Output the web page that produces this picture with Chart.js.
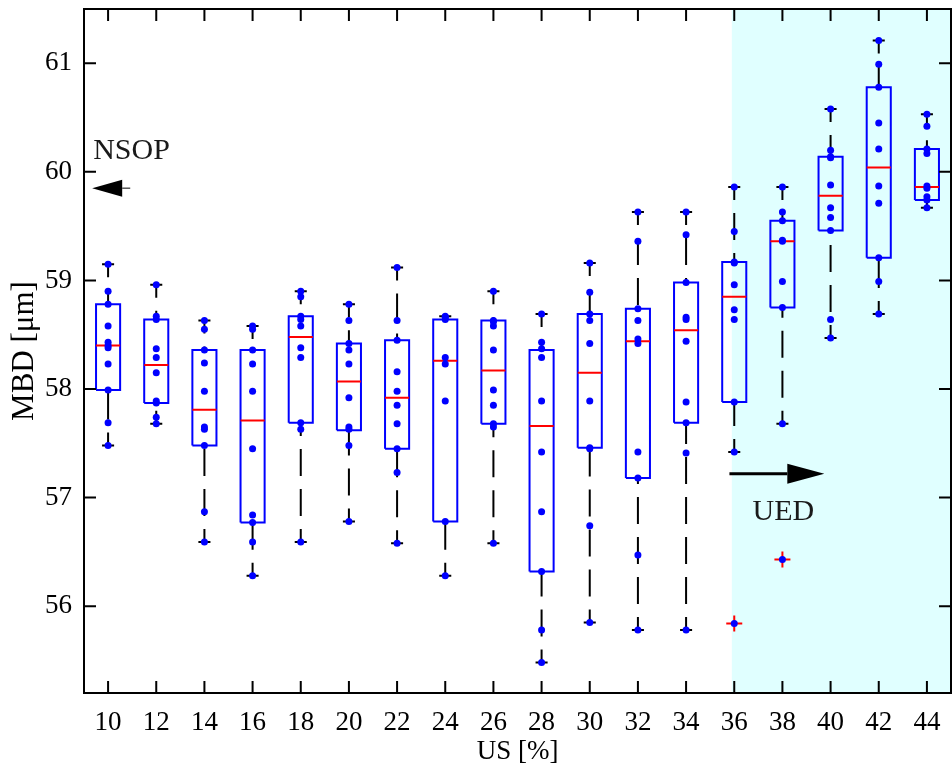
<!DOCTYPE html>
<html>
<head>
<meta charset="utf-8">
<title>MBD vs US</title>
<script src="https://cdn.jsdelivr.net/npm/chart.js@4.4.1/dist/chart.umd.min.js"></script>
<style>
  html, body { margin: 0; padding: 0; background: #fff; }
  #wrap { width: 952px; height: 771px; }
</style>
</head>
<body>
<div id="wrap"><canvas id="mbdChart" width="952" height="771"></canvas></div>
<script>
// US levels (one box per level)
const usLevels = [10, 12, 14, 16, 18, 20, 22, 24, 26, 28, 30, 32, 34, 36, 38, 40, 42, 44];

// box statistics
const q1 = [57.99, 57.87, 57.48, 56.77, 57.69, 57.62, 57.45, 56.78, 57.68, 56.32, 57.46, 57.18, 57.69, 57.88, 58.75, 59.46, 59.21, 59.74];
const medians = [58.40, 58.22, 57.81, 57.71, 58.48, 58.07, 57.92, 58.26, 58.17, 57.66, 58.15, 58.44, 58.54, 58.85, 59.36, 59.78, 60.04, 59.86];
const q3 = [58.78, 58.64, 58.36, 58.36, 58.67, 58.42, 58.45, 58.64, 58.63, 58.36, 58.69, 58.74, 58.98, 59.17, 59.55, 60.14, 60.78, 60.21];
const whiskerLow = [57.48, 57.68, 56.59, 56.28, 56.59, 56.78, 56.58, 56.28, 56.58, 55.48, 55.85, 55.78, 55.78, 57.42, 57.68, 58.47, 58.69, 59.67];
const whiskerHigh = [59.15, 58.96, 58.63, 58.58, 58.90, 58.78, 59.12, 58.67, 58.90, 58.69, 59.16, 59.63, 59.63, 59.86, 59.86, 60.58, 61.21, 60.53];

// individual measurements per US level
const samples = [
  [59.15, 58.90, 58.78, 58.58, 58.43, 58.40, 58.38, 58.23, 57.99, 57.69, 57.48],
  [58.96, 58.67, 58.64, 58.37, 58.29, 58.15, 57.89, 57.87, 57.74, 57.68],
  [58.63, 58.55, 58.36, 58.24, 57.98, 57.65, 57.63, 57.48, 56.87, 56.59],
  [58.58, 58.55, 58.36, 58.23, 57.98, 57.45, 56.84, 56.77, 56.59, 56.28],
  [58.90, 58.85, 58.67, 58.64, 58.58, 58.38, 58.29, 57.69, 57.63, 56.59],
  [58.78, 58.63, 58.42, 58.36, 58.23, 57.92, 57.65, 57.63, 57.48, 56.78],
  [59.12, 58.63, 58.45, 58.16, 57.98, 57.85, 57.68, 57.45, 57.23, 56.58],
  [58.67, 58.66, 58.64, 58.29, 58.23, 57.89, 56.78, 56.28],
  [58.90, 58.63, 58.62, 58.58, 58.36, 57.99, 57.85, 57.68, 57.65, 56.58],
  [58.69, 58.43, 58.37, 58.29, 57.89, 57.42, 56.87, 56.32, 55.78, 55.48],
  [59.16, 58.89, 58.69, 58.63, 58.42, 57.89, 57.46, 57.45, 56.74, 55.85],
  [59.63, 59.36, 58.74, 58.63, 58.46, 58.42, 57.42, 57.18, 56.47, 55.78],
  [59.63, 59.42, 58.98, 58.66, 58.64, 58.44, 57.88, 57.69, 57.41, 55.78],
  [59.86, 59.45, 59.17, 59.16, 58.96, 58.73, 58.64, 57.88, 57.42],
  [59.86, 59.63, 59.55, 59.37, 59.36, 58.99, 58.75, 57.68],
  [60.58, 60.20, 60.14, 60.13, 59.88, 59.67, 59.58, 59.46, 58.64, 58.47],
  [61.21, 60.99, 60.78, 60.45, 60.21, 59.87, 59.71, 59.21, 58.99, 58.69],
  [60.53, 60.42, 60.21, 60.17, 59.87, 59.85, 59.77, 59.74, 59.67]
];

// outliers
const outlierUS = [36, 38];
const outlierMBD = [55.84, 56.43];

const yTicks = [56, 57, 58, 59, 60, 61];
const uedFrom = 35.9;

const FONT = '"Liberation Serif", "Times New Roman", serif';
const BOX_HALF = 0.5;
const CAP_HALF = 0.25;

// build line paths, gaps split the segments
const gap = { x: null, y: null };
const whiskerPts = [];
const capPts = [];
const boxPts = [];
const medianPts = [];
const dotPts = [];

usLevels.forEach((us, i) => {
  whiskerPts.push({ x: us, y: whiskerHigh[i] }, { x: us, y: q3[i] }, gap,
                  { x: us, y: whiskerLow[i] }, { x: us, y: q1[i] }, gap);
  capPts.push({ x: us - CAP_HALF, y: whiskerHigh[i] }, { x: us + CAP_HALF, y: whiskerHigh[i] }, gap,
              { x: us - CAP_HALF, y: whiskerLow[i] }, { x: us + CAP_HALF, y: whiskerLow[i] }, gap);
  boxPts.push({ x: us - BOX_HALF, y: q1[i] }, { x: us + BOX_HALF, y: q1[i] },
              { x: us + BOX_HALF, y: q3[i] }, { x: us - BOX_HALF, y: q3[i] },
              { x: us - BOX_HALF, y: q1[i] }, gap);
  medianPts.push({ x: us - BOX_HALF, y: medians[i] }, { x: us + BOX_HALF, y: medians[i] }, gap);
  samples[i].forEach(v => dotPts.push({ x: us, y: v }));
});
const outlierPts = outlierUS.map((us, i) => ({ x: us, y: outlierMBD[i] }));

// shaded UED region
const shadePlugin = {
  id: 'shade',
  beforeDatasetsDraw(chart) {
    const { ctx, chartArea, scales } = chart;
    const x0 = scales.x.getPixelForValue(uedFrom);
    ctx.save();
    ctx.fillStyle = 'rgb(224,255,255)';
    ctx.fillRect(x0, chartArea.top, chartArea.right - x0, chartArea.bottom - chartArea.top);
    ctx.restore();
  }
};

// matlab style box with inward ticks on all sides
const framePlugin = {
  id: 'frame',
  afterDatasetsDraw(chart) {
    const { ctx, chartArea: a, scales: { x, y } } = chart;
    const tl = 12;
    ctx.save();
    ctx.strokeStyle = '#000';
    ctx.lineWidth = 2;
    ctx.beginPath();
    usLevels.forEach(v => {
      const px = x.getPixelForValue(v);
      ctx.moveTo(px, a.bottom); ctx.lineTo(px, a.bottom - tl);
      ctx.moveTo(px, a.top); ctx.lineTo(px, a.top + tl);
    });
    yTicks.forEach(v => {
      const py = y.getPixelForValue(v);
      ctx.moveTo(a.left, py); ctx.lineTo(a.left + tl, py);
      ctx.moveTo(a.right, py); ctx.lineTo(a.right - tl, py);
    });
    ctx.stroke();
    ctx.strokeRect(a.left, a.top, a.right - a.left, a.bottom - a.top);
    ctx.restore();
  }
};

function drawArrow(ctx, tailX, tipX, py, headLen, headHalf, lw) {
  const dir = tipX > tailX ? 1 : -1;
  const baseX = tipX - dir * headLen;
  ctx.lineWidth = lw;
  ctx.beginPath();
  ctx.moveTo(tailX, py);
  ctx.lineTo(baseX, py);
  ctx.stroke();
  ctx.beginPath();
  ctx.moveTo(tipX, py);
  ctx.lineTo(baseX, py - headHalf);
  ctx.lineTo(baseX, py + headHalf);
  ctx.closePath();
  ctx.fill();
}

// NSOP / UED annotations
const notePlugin = {
  id: 'notes',
  afterDatasetsDraw(chart) {
    const { ctx, scales: { x, y } } = chart;
    ctx.save();
    ctx.fillStyle = '#000';
    ctx.strokeStyle = '#000';
    drawArrow(ctx, x.getPixelForValue(10.92), x.getPixelForValue(9.34), y.getPixelForValue(59.85), 30, 8.5, 1);
    drawArrow(ctx, x.getPixelForValue(35.8), x.getPixelForValue(39.74), y.getPixelForValue(57.22), 37, 10, 3);
    ctx.fillStyle = '#1a1a1a';
    ctx.font = '30px ' + FONT;
    ctx.textBaseline = 'alphabetic';
    ctx.textAlign = 'left';
    ctx.fillText('NSOP', x.getPixelForValue(9.38), y.getPixelForValue(60.12));
    ctx.textAlign = 'center';
    ctx.fillText('UED', x.getPixelForValue(38.04), y.getPixelForValue(56.79));
    ctx.restore();
  }
};

new Chart(document.getElementById('mbdChart'), {
  type: 'scatter',
  data: {
    datasets: [
      {
        label: 'whiskers', data: whiskerPts, showLine: true, spanGaps: false,
        borderColor: '#000', borderWidth: 2, borderDash: [27, 13], borderDashOffset: 14,
        pointRadius: 0, order: 6
      },
      {
        label: 'caps', data: capPts, showLine: true, spanGaps: false,
        borderColor: '#000', borderWidth: 2, pointRadius: 0, order: 5
      },
      {
        label: 'boxes', data: boxPts, showLine: true, spanGaps: false,
        borderColor: '#0000ff', borderWidth: 2, pointRadius: 0, order: 4
      },
      {
        label: 'medians', data: medianPts, showLine: true, spanGaps: false,
        borderColor: '#ff0000', borderWidth: 2, pointRadius: 0, order: 3
      },
      {
        label: 'outliers', data: outlierPts, pointStyle: 'cross', pointRadius: 8,
        borderColor: '#ff0000', borderWidth: 2, order: 2
      },
      {
        label: 'samples', data: dotPts.concat(outlierPts), pointStyle: 'circle', pointRadius: 3.5,
        backgroundColor: '#0000ff', borderColor: '#0000ff', borderWidth: 0, order: 1
      }
    ]
  },
  options: {
    responsive: false,
    animation: false,
    devicePixelRatio: 1,
    layout: { autoPadding: false, padding: { top: 9, right: 1, left: 0, bottom: 0 } },
    plugins: {
      legend: { display: false },
      tooltip: { enabled: false }
    },
    scales: {
      x: {
        type: 'linear',
        min: 9,
        max: 45,
        grid: { display: false, drawTicks: false },
        border: { display: false },
        afterBuildTicks: s => { s.ticks = usLevels.map(v => ({ value: v })); },
        afterFit: s => { s.height = 78; s.paddingLeft = 0; s.paddingRight = 0; },
        ticks: { color: '#000', font: { family: FONT, size: 27 }, padding: 14, autoSkip: false, maxRotation: 0 },
        title: { display: true, text: 'US [%]', color: '#000', font: { family: FONT, size: 27, lineHeight: 1.2 }, padding: { top: 0, bottom: 3 } }
      },
      y: {
        type: 'linear',
        min: 55.2,
        max: 61.5,
        grid: { display: false, drawTicks: false },
        border: { display: false },
        afterBuildTicks: s => { s.ticks = yTicks.map(v => ({ value: v })); },
        afterFit: s => { s.width = 84; s.paddingTop = 0; s.paddingBottom = 0; },
        ticks: { color: '#000', font: { family: FONT, size: 27 }, padding: 12 },
        title: { display: true, text: 'MBD [μm]', color: '#000', font: { family: FONT, size: 31, lineHeight: 1.2 }, padding: { top: 6, bottom: 0 } }
      }
    }
  },
  plugins: [shadePlugin, framePlugin, notePlugin]
});
</script>
</body>
</html>
